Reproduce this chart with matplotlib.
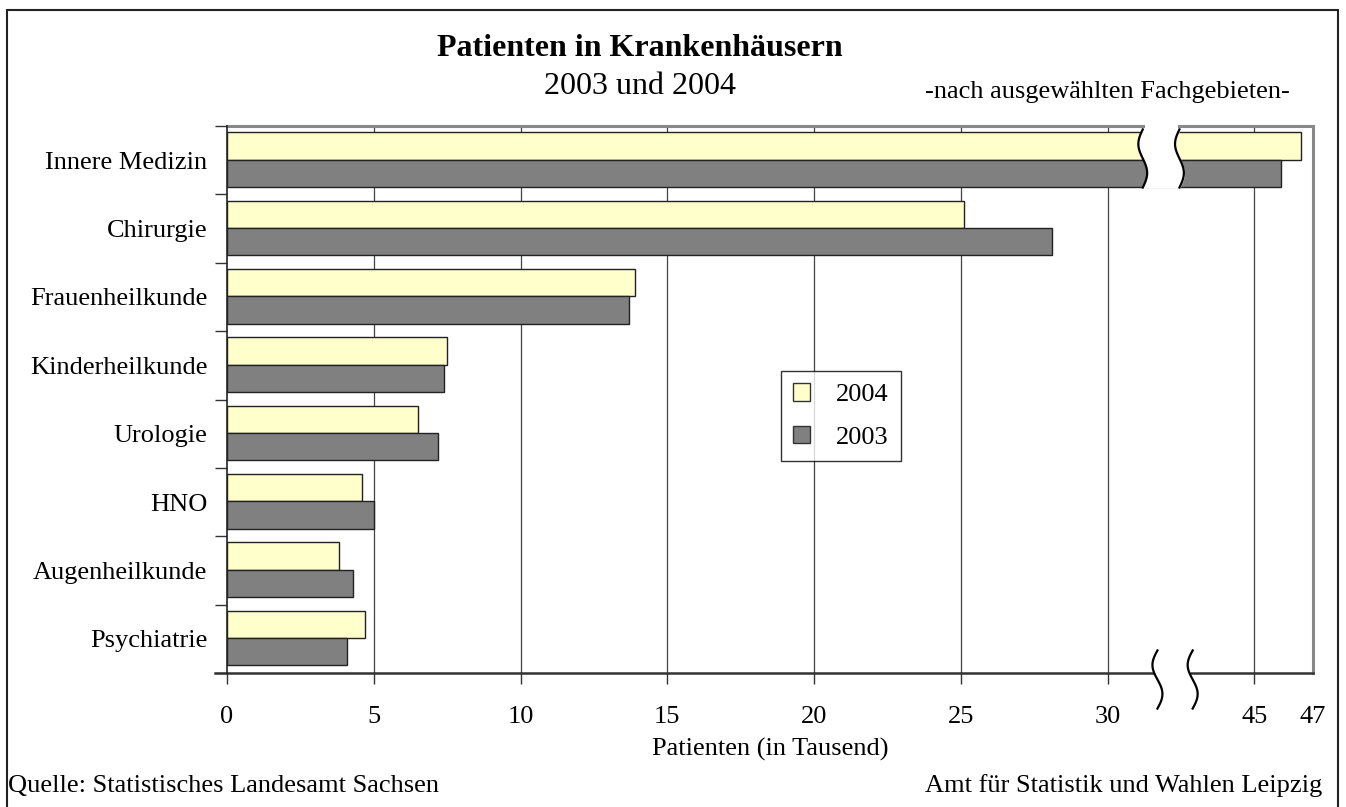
import numpy as np
import matplotlib
matplotlib.use("Agg")
import matplotlib.pyplot as plt
from matplotlib.patches import Rectangle, Patch

plt.rcParams['font.family'] = ['Liberation Serif', 'DejaVu Serif']

categories = ["Innere Medizin", "Chirurgie", "Frauenheilkunde", "Kinderheilkunde",
              "Urologie", "HNO", "Augenheilkunde", "Psychiatrie"]
v2004 = [46.6, 25.1, 13.9, 7.5, 6.5, 4.6, 3.8, 4.7]
v2003 = [45.9, 28.1, 13.7, 7.4, 7.2, 5.0, 4.3, 4.1]
xticks = [0, 5, 10, 15, 20, 25, 30, 45, 47]

# axis break: values above the break are drawn shifted left by this amount
shift = 10
brk_lo, brk_hi = 31.2, 32.45


def to_axis(v):
    return v - shift if v > 35 else v


fig = plt.figure(figsize=(13.46, 8.07), dpi=100)
ax = fig.add_axes([227 / 1346, 134 / 807, 1086 / 1346, 547 / 807])

y = np.arange(len(categories))
h = 0.4
c04, c03 = "#FFFFCC", "#808080"
ax.barh(y - h / 2 - 0.01, [to_axis(v) for v in v2004], height=h, color=c04,
        edgecolor="#222222", linewidth=1, zorder=3)
ax.barh(y + h / 2 - 0.01, [to_axis(v) for v in v2003], height=h, color=c03,
        edgecolor="#222222", linewidth=1, zorder=3)

ax.set_xlim(0, 37)
ax.set_ylim(7.5, -0.5)

# grid lines
for t in xticks[1:-1]:
    ax.axvline(to_axis(t), color="#444444", lw=0.9, zorder=1)

# spines
for s in ["top", "right", "bottom"]:
    ax.spines[s].set_visible(False)
ax.spines["left"].set_color("#222222")
ax.spines["left"].set_linewidth(1.2)
ax.spines["left"].set_zorder(4)
ax.plot([0, brk_lo], [-0.5, -0.5], color="#888888", lw=2.2, clip_on=False, zorder=2)
ax.plot([brk_hi, 37], [-0.5, -0.5], color="#888888", lw=2.2, clip_on=False, zorder=2)
ax.plot([37, 37], [-0.5, 7.5], color="#888888", lw=2.2, clip_on=False, zorder=2)
ax.plot([-0.4, 31.55], [7.5, 7.5], color="#333333", lw=1.8, clip_on=False, zorder=4)
ax.plot([32.85, 37], [7.5, 7.5], color="#333333", lw=1.8, clip_on=False, zorder=4)

# break in the Innere Medizin bars
y0, y1 = -0.45, 0.4
tt = np.linspace(0, 1, 60)
yy = y0 + (y1 - y0) * tt
wave = 0.15 * np.sin(2 * np.pi * tt)
left_edge = brk_lo - wave
right_edge = brk_hi - wave
ax.fill_betweenx(yy, left_edge, right_edge, color="white", zorder=5)
ax.plot(left_edge, yy, color="black", lw=1.6, zorder=6)
ax.plot(right_edge, yy, color="black", lw=1.6, zorder=6)

# break marks on the x axis
yb = 7.5 - 0.33 + 0.85 * tt
ax.plot(31.7 - 0.17 * np.sin(2 * np.pi * tt), yb, color="black", lw=1.6,
        clip_on=False, zorder=6)
ax.plot(32.9 - 0.17 * np.sin(2 * np.pi * tt), yb, color="black", lw=1.6,
        clip_on=False, zorder=6)

# ticks
ax.set_xticks([to_axis(t) for t in xticks])
ax.set_xticklabels([str(t) for t in xticks], fontsize=19)
ax.tick_params(axis="x", length=8, width=1, color="#333333", pad=16)
xt = ax.xaxis.get_major_ticks()
xt[-1].tick1line.set_visible(False)

ax.set_yticks(np.arange(-0.5, 8, 1))
ax.set_yticklabels([])
ax.set_yticks(y, minor=True)
ax.set_yticklabels(categories, minor=True, fontsize=19)
ax.tick_params(axis="y", which="major", length=9, width=1, color="#333333")
ax.tick_params(axis="y", which="minor", length=0, pad=14)

ax.set_xlabel("Patienten (in Tausend)", fontsize=19, labelpad=7)

leg = ax.legend(handles=[Patch(facecolor=c04, edgecolor="#333333", label="2004"),
                         Patch(facecolor=c03, edgecolor="#333333", label="2003")],
                loc="upper left", bbox_to_anchor=(0.510, 0.552), fontsize=19,
                frameon=True, fancybox=False, handlelength=0.65, handleheight=0.65,
                borderpad=0.45, labelspacing=0.75, handletextpad=1.0, borderaxespad=0)
leg.get_frame().set_edgecolor("black")
leg.get_frame().set_linewidth(1)
leg.set_zorder(7)

fig.text(640 / 1346, 1 - 49 / 807, "Patienten in Krankenhäusern", ha="center",
         va="center", fontsize=23, fontweight="bold")
fig.text(640 / 1346, 1 - 86 / 807, "2003 und 2004", ha="center", va="center", fontsize=23)
fig.text(1290 / 1346, 1 - 92 / 807, "-nach ausgewählten Fachgebieten-", ha="right",
         va="center", fontsize=19)
fig.text(8 / 1346, 1 - 786 / 807, "Quelle: Statistisches Landesamt Sachsen", ha="left",
         va="center", fontsize=19)
fig.text(1322 / 1346, 1 - 786 / 807, "Amt für Statistik und Wahlen Leipzig", ha="right",
         va="center", fontsize=19)

fig.patches.append(Rectangle((7 / 1346, -0.01), 1331 / 1346, 1 - 10 / 807 + 0.01,
                             transform=fig.transFigure, fill=False, edgecolor="#222222",
                             linewidth=1.5))

fig.savefig("out.png", dpi=100)
